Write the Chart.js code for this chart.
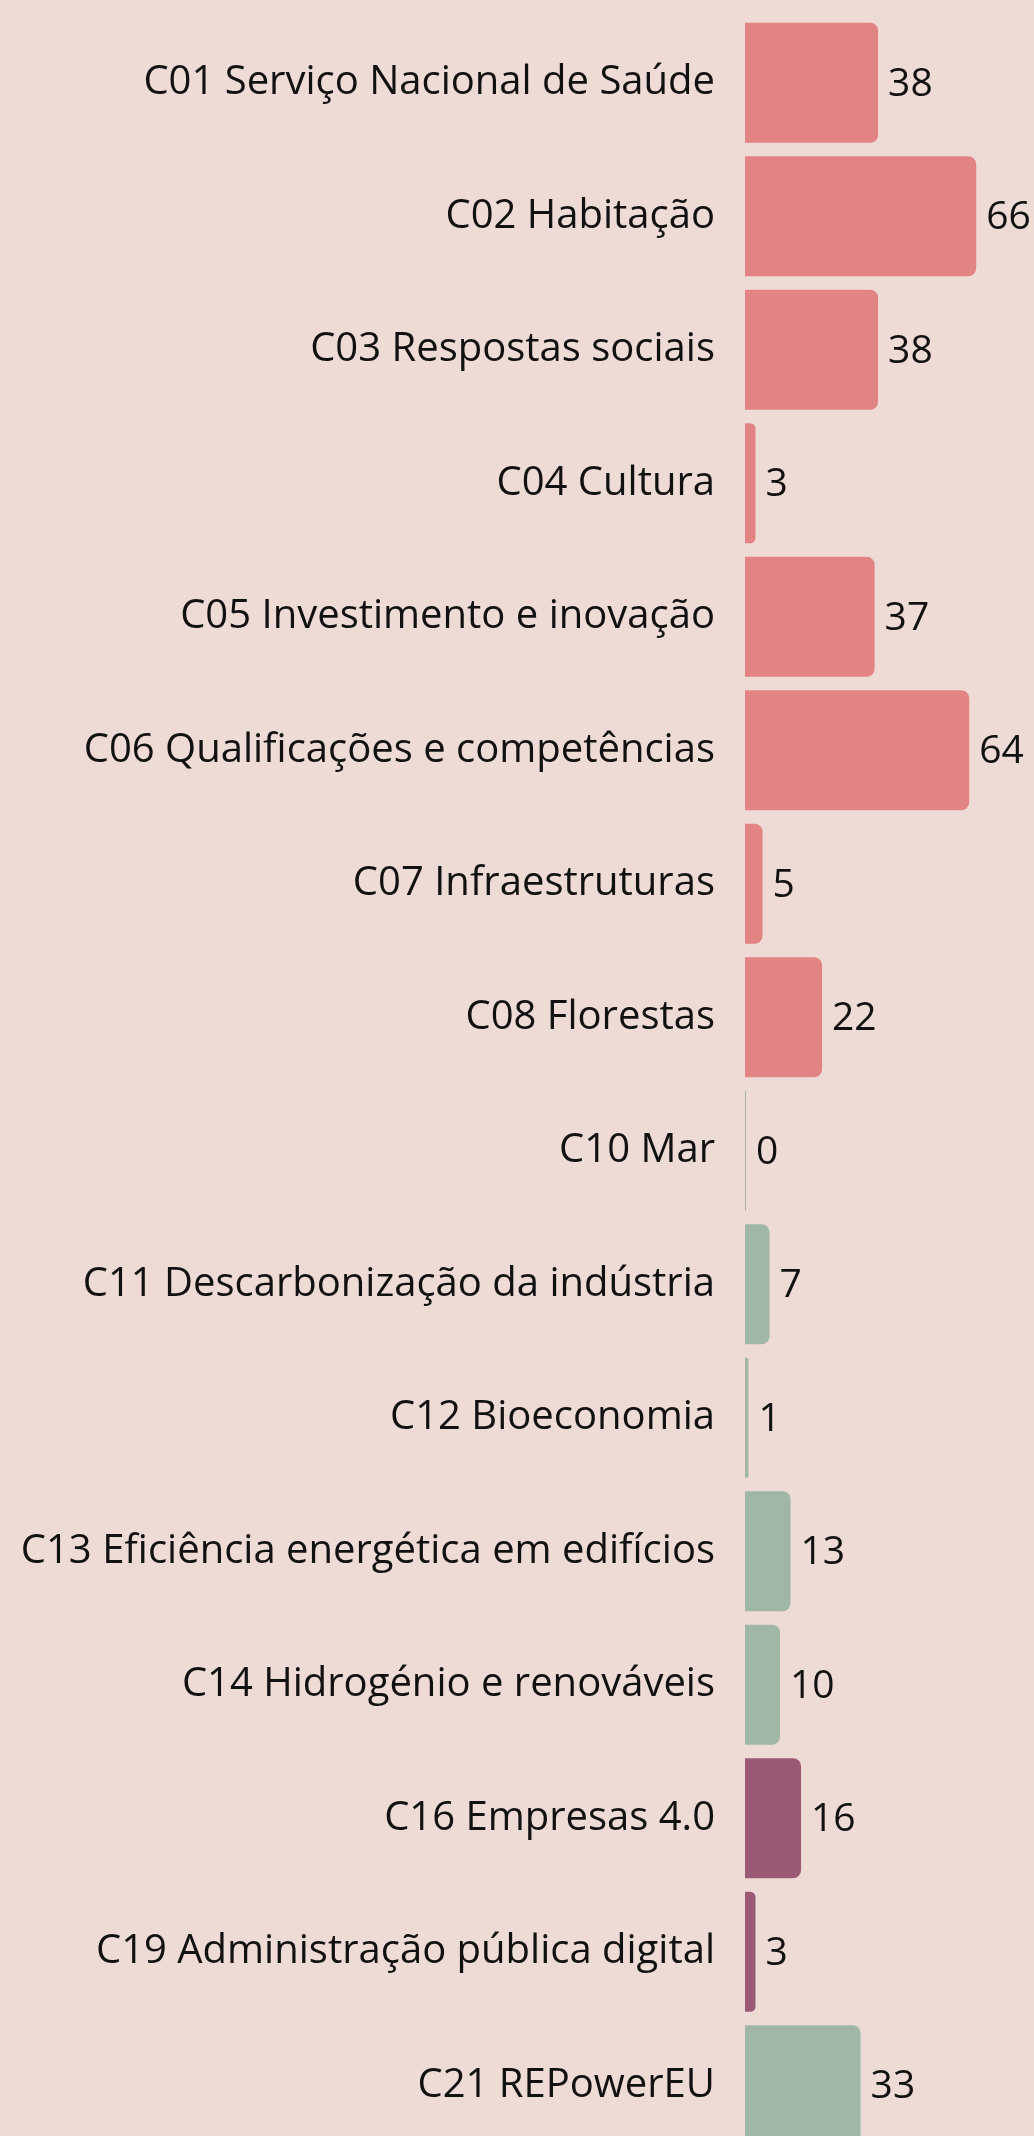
<!DOCTYPE html>
<html>
<head>
<meta charset="utf-8">
<script src="https://cdn.jsdelivr.net/npm/chart.js@4"></script>
<style>
  html, body { margin: 0; padding: 0; background: #efdbd5; overflow: hidden; }
  #wrap { width: 1034px; height: 2136px; overflow: hidden; }
</style>
</head>
<body>
<div id="wrap"><canvas id="chart" width="1034" height="2152"></canvas></div>
<script>
const labels = [
  "C01 Serviço Nacional de Saúde", "C02 Habitação", "C03 Respostas sociais", "C04 Cultura",
  "C05 Investimento e inovação", "C06 Qualificações e competências", "C07 Infraestruturas",
  "C08 Florestas", "C10 Mar", "C11 Descarbonização da indústria", "C12 Bioeconomia",
  "C13 Eficiência energética em edifícios", "C14 Hidrogénio e renováveis", "C16 Empresas 4.0",
  "C19 Administração pública digital", "C21 REPowerEU"
];
const values = [38, 66, 38, 3, 37, 64, 5, 22, 0, 7, 1, 13, 10, 16, 3, 33];
// dimension of each component: r = resiliência, t = transição climática, d = transição digital
const groups = ["r", "r", "r", "r", "r", "r", "r", "r", "t", "t", "t", "t", "t", "d", "d", "t"];
const groupColors = { r: "#e28384", t: "#a0b7a7", d: "#9b5a73" };

const FONT = "'Open Sans', Lato, sans-serif";
const LABEL_SIZE = 40;
const VALUE_SIZE = 39;

const valueLabels = {
  id: "valueLabels",
  afterDatasetsDraw(chart) {
    const ctx = chart.ctx;
    const meta = chart.getDatasetMeta(0);
    ctx.save();
    ctx.font = VALUE_SIZE + "px " + FONT;
    ctx.fillStyle = "#111";
    ctx.textAlign = "left";
    ctx.textBaseline = "middle";
    meta.data.forEach((bar, i) => {
      ctx.fillText(String(values[i]), Math.max(bar.x, bar.base) + 10, bar.y + 2);
    });
    ctx.restore();
  }
};

new Chart(document.getElementById("chart"), {
  type: "bar",
  data: {
    labels: labels,
    datasets: [{
      data: values,
      backgroundColor: groups.map(g => groupColors[g]),
      borderRadius: { topRight: 8, bottomRight: 8 },
      borderSkipped: false,
      barPercentage: 0.9,
      categoryPercentage: 1,
      minBarLength: 1
    }]
  },
  options: {
    indexAxis: "y",
    responsive: false,
    animation: false,
    layout: { padding: { top: 16, bottom: 0, left: 0, right: 0 } },
    plugins: { legend: { display: false }, tooltip: { enabled: false } },
    scales: {
      x: { min: 0, max: 82.5, display: false },
      y: {
        grid: { display: false, drawTicks: false },
        border: { display: false },
        ticks: { color: "#111", padding: 30, font: { family: FONT, size: LABEL_SIZE } },
        afterFit(scale) {
          scale.width = 745;
          scale.paddingTop = 0;
          scale.paddingBottom = 0;
        }
      }
    }
  },
  plugins: [valueLabels]
});
</script>
</body>
</html>
